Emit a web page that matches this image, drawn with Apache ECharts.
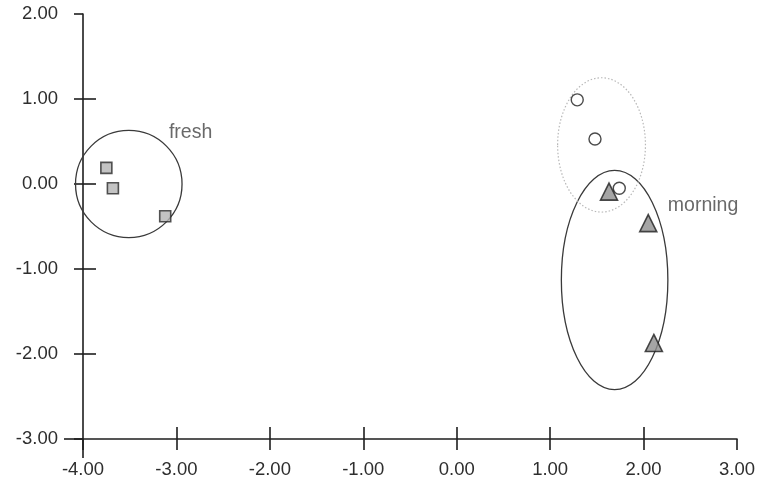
<!DOCTYPE html>
<html>
<head>
<meta charset="utf-8">
<script src="https://cdn.jsdelivr.net/npm/echarts@6/dist/echarts.min.js"></script>
<style>
  html, body { margin: 0; padding: 0; background: #fff; }
  #main { width: 760px; height: 491px; }
</style>
</head>
<body>
<div id="main"></div>
<script>
// point groups
var freshX = [-3.75, -3.68, -3.12];
var freshY = [0.19, -0.05, -0.38];
var openX = [1.29, 1.48, 1.74];
var openY = [0.99, 0.53, -0.05];
var morningX = [1.63, 2.05, 2.11];
var morningY = [-0.09, -0.46, -1.87];

// group ellipses: centre and half widths, in axis units
var ellipseCx = [-3.51, 1.69, 1.55];
var ellipseCy = [0.0, -1.13, 0.46];
var ellipseRx = [0.57, 0.57, 0.47];
var ellipseRy = [0.63, 1.29, 0.79];
var ellipseDotted = [false, false, true];

var labelText = ["fresh", "morning"];
var labelX = [-3.08, 2.26];
var labelY = [0.61, -0.25];

function zip(xs, ys) {
  return xs.map(function (x, i) { return [x, ys[i]]; });
}

var myChart = echarts.init(document.getElementById("main"));

var fmt = function (v) { return v.toFixed(2); };
var axisColor = "#1e1e1e";
var font = "Liberation Sans";

var baseX = {
  type: "value", min: -4, max: 3, interval: 1, position: "bottom",
  splitLine: { show: false },
  axisLine: { show: false, onZero: false }
};
var baseY = {
  type: "value", min: -3, max: 2, interval: 1, position: "left",
  splitLine: { show: false },
  axisLine: { show: false, onZero: false }
};

myChart.setOption({
  backgroundColor: "#fff",
  animation: false,
  grid: { left: 83, right: 23, top: 14, bottom: 52 },
  xAxis: [
    Object.assign({}, baseX, {
      axisLine: { show: true, onZero: false, lineStyle: { color: axisColor, width: 1.6 } },
      axisTick: { show: true, length: 11, lineStyle: { color: axisColor, width: 1.6 } },
      axisLabel: { margin: 21, color: "#2e2e2e", fontSize: 18.5, fontFamily: font, formatter: fmt }
    }),
    Object.assign({}, baseX, {
      axisLabel: { show: false },
      axisTick: { show: true, inside: true, length: 12, customValues: [-3, -2, -1, 0, 1, 2],
        lineStyle: { color: axisColor, width: 1.6 } }
    }),
    Object.assign({}, baseX, {
      axisLabel: { show: false },
      axisTick: { show: true, length: 19, customValues: [-4],
        lineStyle: { color: axisColor, width: 1.6 } }
    })
  ],
  yAxis: [
    Object.assign({}, baseY, {
      axisLine: { show: true, onZero: false, lineStyle: { color: axisColor, width: 1.6 } },
      axisTick: { show: true, length: 9, lineStyle: { color: axisColor, width: 1.6 } },
      axisLabel: { margin: 25, color: "#2e2e2e", fontSize: 18.5, fontFamily: font, formatter: fmt }
    }),
    Object.assign({}, baseY, {
      axisLabel: { show: false },
      axisTick: { show: true, inside: true, length: 13, customValues: [-2, -1, 0, 1],
        lineStyle: { color: axisColor, width: 1.6 } }
    }),
    Object.assign({}, baseY, {
      axisLabel: { show: false },
      axisTick: { show: true, length: 19, customValues: [-3],
        lineStyle: { color: axisColor, width: 1.6 } }
    })
  ],
  series: [
    {
      type: "custom",
      name: "groups",
      coordinateSystem: "cartesian2d",
      encode: { x: 0, y: 1 },
      data: ellipseCx.map(function (cx, i) {
        return [cx, ellipseCy[i], ellipseRx[i], ellipseRy[i], ellipseDotted[i] ? 1 : 0];
      }),
      renderItem: function (params, api) {
        var c = api.coord([api.value(0), api.value(1)]);
        var s = api.size([api.value(2), api.value(3)]);
        var dotted = api.value(4) === 1;
        return {
          type: "ellipse",
          shape: { cx: c[0], cy: c[1], rx: s[0], ry: s[1] },
          style: {
            fill: "none",
            stroke: dotted ? "#b8b8b8" : "#3a3a3a",
            lineWidth: dotted ? 1.2 : 1.3,
            lineDash: dotted ? [1.5, 2] : null
          }
        };
      },
      z: 1
    },
    {
      type: "scatter",
      name: "fresh",
      data: zip(freshX, freshY),
      symbol: "rect",
      symbolSize: 11,
      itemStyle: { color: "#b4b4b4", borderColor: "#2a2a2a", borderWidth: 1.6 },
      z: 3
    },
    {
      type: "scatter",
      name: "open",
      data: zip(openX, openY),
      symbol: "circle",
      symbolSize: 12,
      itemStyle: { color: "#fff", borderColor: "#1e1e1e", borderWidth: 1.4 },
      z: 3
    },
    {
      type: "scatter",
      name: "morning",
      data: zip(morningX, morningY),
      symbol: "triangle",
      symbolSize: 17,
      itemStyle: { color: "#8e8e8e", borderColor: "#1e1e1e", borderWidth: 1.6 },
      z: 4
    },
    {
      type: "scatter",
      name: "labels",
      data: labelText.map(function (t, i) { return { value: [labelX[i], labelY[i]], name: t }; }),
      symbolSize: 0,
      label: {
        show: true, position: "right", distance: 0,
        formatter: "{b}", color: "#444", fontSize: 19.5, fontFamily: font
      },
      z: 5
    }
  ]
});
</script>
</body>
</html>
